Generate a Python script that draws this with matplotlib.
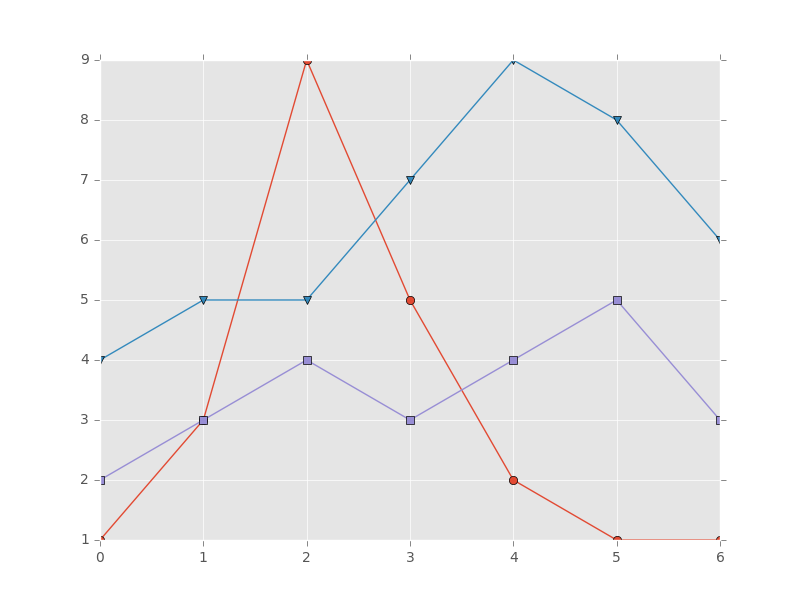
import matplotlib
matplotlib.use('Agg')
import matplotlib.pyplot as plt

x = [0, 1, 2, 3, 4, 5, 6]
red_vals = [1, 3, 9, 5, 2, 1, 1]
blue_vals = [4, 5, 5, 7, 9, 8, 6]
purple_vals = [2, 3, 4, 3, 4, 5, 3]

plt.style.use(['classic', 'ggplot'])
plt.rcParams['lines.markeredgecolor'] = 'black'
plt.rcParams['lines.markeredgewidth'] = 0.5

fig = plt.figure(figsize=(8, 6), dpi=100)
fig.patch.set_facecolor('white')
ax = fig.add_subplot(111)
ax.plot(x, red_vals, marker='o')
ax.plot(x, blue_vals, marker='v')
ax.plot(x, purple_vals, marker='s')
ax.set_xlim(0, 6)
ax.set_ylim(1, 9)
ax.xaxis.set_ticks_position('both')
ax.yaxis.set_ticks_position('both')

fig.savefig('out.png', dpi=100, facecolor='white')
